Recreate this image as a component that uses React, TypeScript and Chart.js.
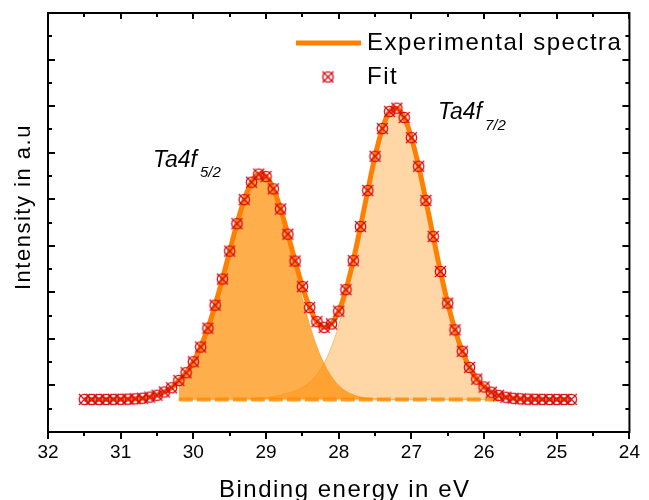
import { useEffect, useRef } from 'react';
import { Chart, registerables } from 'chart.js';

Chart.register(...registerables);

// Binding energy grid (eV) for the measured / fitted curve
const bindingEnergy = [
  31.5, 31.4, 31.3, 31.2, 31.1, 31.0, 30.9, 30.8, 30.7, 30.6, 30.5, 30.4, 30.3, 30.2, 30.1, 30.0,
  29.9, 29.8, 29.7, 29.6, 29.5, 29.4, 29.3, 29.2, 29.1, 29.0, 28.9, 28.8, 28.7, 28.6, 28.5, 28.4,
  28.3, 28.2, 28.1, 28.0, 27.9, 27.8, 27.7, 27.6, 27.5, 27.4, 27.3, 27.2, 27.1, 27.0, 26.9, 26.8,
  26.7, 26.6, 26.5, 26.4, 26.3, 26.2, 26.1, 26.0, 25.9, 25.8, 25.7, 25.6, 25.5, 25.4, 25.3, 25.2,
  25.1, 25.0, 24.9, 24.8,
];

// Experimental spectra (a.u.)
const experimental = [
  0.70, 0.70, 0.70, 0.70, 0.701, 0.703, 0.706, 0.712, 0.725, 0.75, 0.79, 0.86, 0.95, 1.105, 1.273, 1.508,
  1.825, 2.231, 2.724, 3.286, 3.886, 4.475, 4.992, 5.366, 5.54, 5.487, 5.223, 4.791, 4.249, 3.673, 3.123, 2.673,
  2.37, 2.248, 2.322, 2.596, 3.058, 3.681, 4.413, 5.188, 5.922, 6.518, 6.884, 6.956, 6.756, 6.323, 5.707, 4.975,
  4.2, 3.448, 2.769, 2.194, 1.734, 1.387, 1.137, 0.967, 0.856, 0.788, 0.747, 0.724, 0.712, 0.706, 0.703, 0.701,
  0.70, 0.70, 0.70, 0.70,
];

// Fit envelope (a.u.)
const fit = [
  0.70, 0.70, 0.70, 0.70, 0.701, 0.703, 0.706, 0.712, 0.725, 0.75, 0.79, 0.86, 0.95, 1.105, 1.273, 1.508,
  1.825, 2.231, 2.724, 3.286, 3.886, 4.475, 4.992, 5.366, 5.54, 5.487, 5.223, 4.791, 4.249, 3.673, 3.123, 2.673,
  2.37, 2.248, 2.322, 2.596, 3.058, 3.681, 4.413, 5.188, 5.922, 6.518, 6.884, 6.956, 6.756, 6.323, 5.707, 4.975,
  4.2, 3.448, 2.769, 2.194, 1.734, 1.387, 1.137, 0.967, 0.856, 0.788, 0.747, 0.724, 0.712, 0.706, 0.703, 0.701,
  0.70, 0.70, 0.70, 0.70,
];

// Component energy grid (eV)
const componentEnergy = [
  30.2, 30.1, 30.0, 29.9, 29.8, 29.7, 29.6, 29.5, 29.4, 29.3, 29.2, 29.1, 29.0, 28.9, 28.8, 28.7,
  28.6, 28.5, 28.4, 28.3, 28.2, 28.1, 28.0, 27.9, 27.8, 27.7, 27.6, 27.5, 27.4, 27.3, 27.2, 27.1,
  27.0, 26.9, 26.8, 26.7, 26.6, 26.5, 26.4, 26.3, 26.2, 26.1, 26.0, 25.9, 25.8,
];

// Ta4f5/2 component
const ta4f52 = [
  1.105, 1.273, 1.508, 1.825, 2.231, 2.723, 3.284, 3.883, 4.47, 4.982, 5.351, 5.515, 5.447, 5.163, 4.701, 4.119,
  3.487, 2.867, 2.306, 1.835, 1.465, 1.192, 1.001, 0.876, 0.798, 0.752, 0.726, 0.713, 0.706, 0.703, 0.701, 0.70,
  0.70, 0.70, 0.70, 0.70, 0.70, 0.70, 0.70, 0.70, 0.70, 0.70, 0.70, 0.70, 0.70,
];

// Ta4f7/2 component
const ta4f72 = [
  0.70, 0.70, 0.70, 0.70, 0.70, 0.701, 0.702, 0.703, 0.705, 0.71, 0.715, 0.725, 0.74, 0.76, 0.79, 0.83,
  0.886, 0.956, 1.067, 1.235, 1.483, 1.83, 2.295, 2.882, 3.583, 4.361, 5.162, 5.909, 6.512, 6.881, 6.955, 6.756,
  6.323, 5.707, 4.975, 4.2, 3.448, 2.769, 2.194, 1.734, 1.387, 1.137, 0.967, 0.856, 0.788,
];

const backgroundLevel = 0.70;
const backgroundEnergy = [30.2, 25.8];

const xMin = 24;
const xMax = 32;
const yMin = 0;
const yMax = 9;

const FONT = '"Liberation Sans", Arial, Helvetica, sans-serif';
const ORANGE = 'rgb(255,128,0)';
const RED = 'rgb(215,10,20)';

function makeMarker(): HTMLCanvasElement {
  const c = document.createElement('canvas');
  c.width = 15;
  c.height = 15;
  const g = c.getContext('2d')!;
  g.strokeStyle = RED;
  g.lineWidth = 1.3;
  g.beginPath();
  g.arc(7.5, 7.5, 5.2, 0, Math.PI * 2);
  g.stroke();
  g.beginPath();
  g.moveTo(2, 2);
  g.lineTo(13, 13);
  g.moveTo(13, 2);
  g.lineTo(2, 13);
  g.stroke();
  return c;
}

const framePlugin = {
  id: 'frame',
  afterDraw(chart: any) {
    const { ctx, chartArea: a, scales } = chart;
    const x = scales.x;
    const y = scales.y;
    const marker = chart.data.datasets[0].pointStyle as HTMLCanvasElement;
    ctx.save();
    ctx.strokeStyle = '#000';
    ctx.lineWidth = 2;
    ctx.lineCap = 'butt';
    ctx.strokeRect(a.left, a.top, a.right - a.left, a.bottom - a.top);

    ctx.beginPath();
    for (let v = xMin; v <= xMax + 1e-6; v += 0.5) {
      const major = Math.abs(v - Math.round(v)) < 1e-6;
      const px = Math.round(x.getPixelForValue(v));
      ctx.moveTo(px, a.bottom);
      ctx.lineTo(px, a.bottom + (major ? 7 : 4));
      ctx.moveTo(px, a.top);
      ctx.lineTo(px, a.top + (major ? 6 : 4));
    }
    for (let v = yMin + 0.5; v < yMax; v += 0.5) {
      const major = Math.abs(v - Math.round(v)) < 1e-6;
      const py = Math.round(y.getPixelForValue(v));
      ctx.moveTo(a.left, py);
      ctx.lineTo(a.left + (major ? 7 : 4), py);
      ctx.moveTo(a.right, py);
      ctx.lineTo(a.right - (major ? 7 : 4), py);
    }
    ctx.stroke();

    // Legend
    ctx.strokeStyle = ORANGE;
    ctx.lineWidth = 5;
    ctx.beginPath();
    ctx.moveTo(296, 43);
    ctx.lineTo(361, 43);
    ctx.stroke();
    if (marker) ctx.drawImage(marker, 328 - 7.5, 77 - 7.5);

    ctx.fillStyle = '#000';
    ctx.textBaseline = 'alphabetic';
    ctx.textAlign = 'left';
    (ctx as any).letterSpacing = '1.5px';
    ctx.font = `24px ${FONT}`;
    ctx.fillText('Experimental spectra', 367, 50);
    ctx.fillText('Fit', 367, 84);

    // Axis titles
    ctx.fillText('Binding energy in eV', 219, 497);
    ctx.save();
    ctx.font = `22px ${FONT}`;
    ctx.translate(30, 290);
    ctx.rotate(-Math.PI / 2);
    ctx.fillText('Intensity in a.u', 0, 0);
    ctx.restore();

    // Peak labels
    (ctx as any).letterSpacing = '0px';
    ctx.font = `italic 23px ${FONT}`;
    ctx.fillText('Ta4f', 153, 167);
    ctx.fillText('Ta4f', 438, 119);
    ctx.font = `italic 15px ${FONT}`;
    ctx.fillText('5/2', 200, 177);
    ctx.fillText('7/2', 485, 130);
    ctx.restore();
  },
};

export default function App() {
  const ref = useRef<HTMLCanvasElement>(null);

  useEffect(() => {
    document.body.style.margin = '0';
    document.body.style.overflow = 'hidden';
    const canvas = ref.current;
    if (!canvas) return;
    const marker = makeMarker();

    const toPoints = (xs: number[], ys: number[]) => xs.map((v, i) => ({ x: v, y: ys[i] }));

    const chart = new Chart(canvas, {
      type: 'line',
      data: {
        datasets: [
          {
            label: 'Fit',
            data: toPoints(bindingEnergy, fit),
            showLine: false,
            pointStyle: marker as any,
            pointRadius: 6,
            borderColor: RED,
            backgroundColor: RED,
            order: 0,
          },
          {
            label: 'Experimental spectra',
            data: toPoints(bindingEnergy, experimental),
            borderColor: ORANGE,
            borderWidth: 5,
            pointRadius: 0,
            cubicInterpolationMode: 'monotone',
            fill: false,
            order: 1,
          },
          {
            label: 'Ta4f5/2',
            data: toPoints(componentEnergy, ta4f52),
            borderColor: 'rgba(255,140,0,0.55)',
            borderWidth: 1,
            backgroundColor: 'rgba(255,140,0,0.7)',
            pointRadius: 0,
            cubicInterpolationMode: 'monotone',
            fill: { value: backgroundLevel },
            order: 2,
          },
          {
            label: 'Ta4f7/2',
            data: toPoints(componentEnergy, ta4f72),
            borderColor: 'rgba(255,140,0,0.45)',
            borderWidth: 1,
            backgroundColor: 'rgba(255,140,0,0.35)',
            pointRadius: 0,
            cubicInterpolationMode: 'monotone',
            fill: { value: backgroundLevel },
            order: 3,
          },
          {
            label: 'Background',
            data: backgroundEnergy.map((v) => ({ x: v, y: backgroundLevel })),
            borderColor: 'rgba(255,140,0,0.85)',
            borderWidth: 4,
            borderDash: [14, 4],
            pointRadius: 0,
            fill: false,
            order: 4,
          },
        ],
      },
      options: {
        responsive: false,
        animation: false,
        events: [],
        layout: { padding: { top: 13, right: 11, left: 0, bottom: 0 } },
        plugins: {
          legend: { display: false },
          tooltip: { enabled: false },
        },
        scales: {
          x: {
            type: 'linear',
            min: xMin,
            max: xMax,
            reverse: true,
            grid: { display: false, drawTicks: false },
            border: { display: false },
            ticks: {
              stepSize: 1,
              color: '#000',
              padding: 9,
              maxRotation: 0,
              autoSkip: false,
              font: { family: FONT, size: 19 },
            },
            afterFit: (s: any) => {
              s.height = 68;
            },
          },
          y: {
            type: 'linear',
            min: yMin,
            max: yMax,
            grid: { display: false, drawTicks: false },
            border: { display: false },
            ticks: { display: false },
            afterFit: (s: any) => {
              s.width = 48;
            },
          },
        },
      },
      plugins: [framePlugin],
    });

    return () => chart.destroy();
  }, []);

  return <canvas ref={ref} width={649} height={500} style={{ display: 'block', width: 649, height: 500 }} />;
}
